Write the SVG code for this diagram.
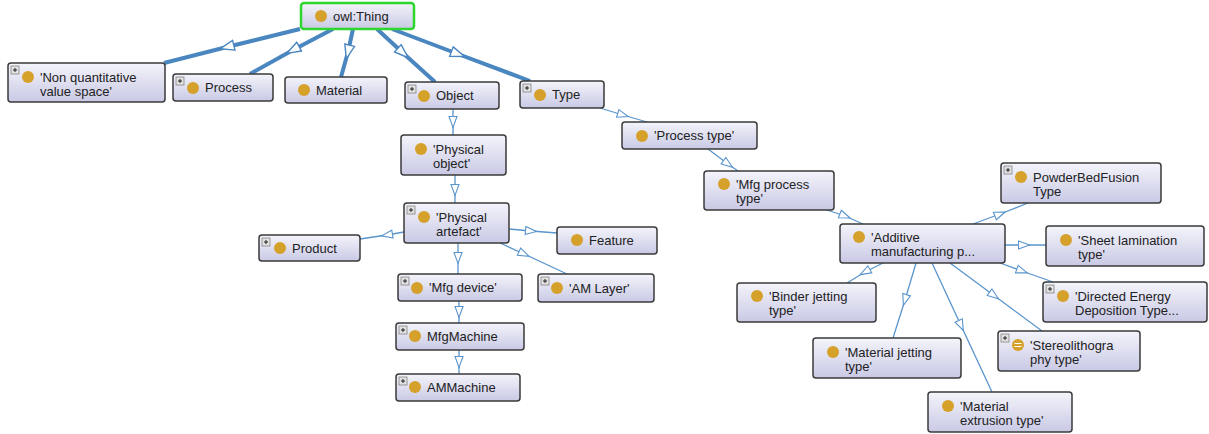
<svg xmlns="http://www.w3.org/2000/svg" width="1209" height="434" viewBox="0 0 1209 434">
<defs>
<linearGradient id="g" x1="0" y1="0" x2="0" y2="1">
<stop offset="0" stop-color="#f4f4fb"/>
<stop offset="1" stop-color="#c9c9e5"/>
</linearGradient>
<marker id="at" markerUnits="userSpaceOnUse" markerWidth="18" markerHeight="14" refX="8" refY="6" orient="auto">
<path d="M1,1 L15,6 L1,11 Z" fill="#fff" stroke="#4a86bf" stroke-width="1.4"/>
</marker>
<marker id="an" markerUnits="userSpaceOnUse" markerWidth="14" markerHeight="12" refX="6.5" refY="5" orient="auto">
<path d="M1,1 L12,5 L1,9 Z" fill="#fff" stroke="#5a95cc" stroke-width="1.1"/>
</marker>
<g id="plus">
<rect x="0" y="0" width="8" height="8" fill="#e2e2e2" stroke="#777" stroke-width="0.7"/>
<path d="M2,4 H6 M4,2 V6" stroke="#222" stroke-width="1"/>
</g>
</defs>
<style>
.box{fill:url(#g);stroke:#3a3a3a;stroke-width:1.5}
.root{fill:url(#g);stroke:#2fd62f;stroke-width:2.5}
.dot{fill:#d6a12b}
.t{font-family:"Liberation Sans",Arial,sans-serif;font-size:13px;fill:#222}
.thick{fill:none;stroke:#4a86bf;stroke-width:4;marker-mid:url(#at)}
.thin{fill:none;stroke:#5a95cc;stroke-width:1.3;marker-mid:url(#an)}
</style>
<rect width="1209" height="434" fill="#fff"/>
<g id="connectors">
<path class="thick" d="M300,29 L227,47 L164,63"/>
<path class="thick" d="M333,29 L293,50 L250,74"/>
<path class="thick" d="M353,29 L348,52 L341,77"/>
<path class="thick" d="M377,29 L403,53 L435,82"/>
<path class="thick" d="M392,29 L458,54 L530,81"/>
<path class="thin" d="M453,109 L453,122 L453,135"/>
<path class="thin" d="M455,175 L455,190 L455,203"/>
<path class="thin" d="M600,108 L623,115 L647,122"/>
<path class="thin" d="M708,149 L728,164 L738,171"/>
<path class="thin" d="M827,210 L845,216 L863,224"/>
<path class="thin" d="M973,224 L1000,214 L1028,203"/>
<path class="thin" d="M1005,245 L1024,245 L1046,245"/>
<path class="thin" d="M1000,263 L1022,271 L1053,282"/>
<path class="thin" d="M950,263 L994,295.5 L1042,331"/>
<path class="thin" d="M932,263 L961,325.5 L992,392"/>
<path class="thin" d="M916,263 L905,300 L893,338"/>
<path class="thin" d="M883,263 L865,272 L847,283"/>
<path class="thin" d="M404,232 L387,235 L360,239"/>
<path class="thin" d="M509,229 L531,231 L557,233"/>
<path class="thin" d="M500,243 L524,254 L567,274"/>
<path class="thin" d="M458,243 L458,258 L458,274"/>
<path class="thin" d="M459,301 L459,312 L459,323"/>
<path class="thin" d="M459,350 L459,362 L459,374"/>
</g>
<g id="n-thing"><rect class="root" x="301" y="3" width="113" height="26" rx="3"/><circle class="dot" cx="321" cy="16" r="6"/><text class="t" x="333" y="20.5">owl:Thing</text></g>
<g id="n-nonquant"><rect class="box" x="8" y="63" width="157" height="39" rx="3"/><use href="#plus" x="11" y="66"/><circle class="dot" cx="28" cy="77" r="6"/><text class="t" x="40" y="81.5">'Non quantitative</text><text class="t" x="40" y="95.5">value space'</text></g>
<g id="n-process"><rect class="box" x="173" y="74" width="100" height="27" rx="3"/><use href="#plus" x="176" y="77"/><circle class="dot" cx="193" cy="88" r="6"/><text class="t" x="205" y="92">Process</text></g>
<g id="n-material"><rect class="box" x="285" y="77" width="102" height="26" rx="3"/><circle class="dot" cx="304" cy="90" r="6"/><text class="t" x="316" y="94.5">Material</text></g>
<g id="n-object"><rect class="box" x="405" y="82" width="94" height="27" rx="3"/><use href="#plus" x="408" y="85"/><circle class="dot" cx="424" cy="96" r="6"/><text class="t" x="436" y="100">Object</text></g>
<g id="n-type"><rect class="box" x="520" y="81" width="84" height="27" rx="3"/><use href="#plus" x="523" y="84"/><circle class="dot" cx="540" cy="95" r="6"/><text class="t" x="552" y="99">Type</text></g>
<g id="n-processtype"><rect class="box" x="622" y="122" width="135" height="27" rx="3"/><circle class="dot" cx="642" cy="136" r="6"/><text class="t" x="654" y="140">'Process type'</text></g>
<g id="n-mfgprocesstype"><rect class="box" x="704" y="171" width="130" height="39" rx="3"/><circle class="dot" cx="724" cy="184" r="6"/><text class="t" x="736" y="188.5">'Mfg process</text><text class="t" x="736" y="202.5">type'</text></g>
<g id="n-physobject"><rect class="box" x="401" y="135" width="105" height="40" rx="3"/><circle class="dot" cx="421" cy="149" r="6"/><text class="t" x="433" y="153.5">'Physical</text><text class="t" x="433" y="167.5">object'</text></g>
<g id="n-physartefact"><rect class="box" x="404" y="203" width="105" height="40" rx="3"/><use href="#plus" x="407" y="206"/><circle class="dot" cx="424" cy="217" r="6"/><text class="t" x="436" y="221.5">'Physical</text><text class="t" x="436" y="235.5">artefact'</text></g>
<g id="n-product"><rect class="box" x="259" y="235" width="101" height="26" rx="3"/><use href="#plus" x="262" y="238"/><circle class="dot" cx="280" cy="248" r="6"/><text class="t" x="292" y="252.5">Product</text></g>
<g id="n-feature"><rect class="box" x="557" y="227" width="100" height="27" rx="3"/><circle class="dot" cx="577" cy="240" r="6"/><text class="t" x="589" y="244.5">Feature</text></g>
<g id="n-mfgdevice"><rect class="box" x="398" y="274" width="124" height="27" rx="3"/><use href="#plus" x="401" y="277"/><circle class="dot" cx="417" cy="288" r="6"/><text class="t" x="429" y="292">'Mfg device'</text></g>
<g id="n-amlayer"><rect class="box" x="538" y="274" width="116" height="28" rx="3"/><use href="#plus" x="541" y="277"/><circle class="dot" cx="557" cy="288" r="6"/><text class="t" x="569" y="292.5">'AM Layer'</text></g>
<g id="n-mfgmachine"><rect class="box" x="396" y="323" width="128" height="27" rx="3"/><use href="#plus" x="399" y="326"/><circle class="dot" cx="415" cy="336" r="6"/><text class="t" x="427" y="340.5">MfgMachine</text></g>
<g id="n-ammachine"><rect class="box" x="396" y="374" width="124" height="27" rx="3"/><use href="#plus" x="399" y="377"/><circle class="dot" cx="415" cy="387" r="6"/><text class="t" x="427" y="391.5">AMMachine</text></g>
<g id="n-additive"><rect class="box" x="840" y="224" width="165" height="39" rx="3"/><circle class="dot" cx="859" cy="237" r="6"/><text class="t" x="871" y="241.5">'Additive</text><text class="t" x="871" y="255.5">manufacturing p...</text></g>
<g id="n-powderbed"><rect class="box" x="1001" y="163" width="160" height="40" rx="3"/><use href="#plus" x="1004" y="166"/><circle class="dot" cx="1021" cy="177" r="6"/><text class="t" x="1033" y="181.5">PowderBedFusion</text><text class="t" x="1033" y="195.5">Type</text></g>
<g id="n-sheet"><rect class="box" x="1046" y="226" width="158" height="40" rx="3"/><circle class="dot" cx="1066" cy="240" r="6"/><text class="t" x="1078" y="244.5">'Sheet lamination</text><text class="t" x="1078" y="258.5">type'</text></g>
<g id="n-binder"><rect class="box" x="737" y="283" width="139" height="39" rx="3"/><circle class="dot" cx="757" cy="296" r="6"/><text class="t" x="769" y="300.5">'Binder jetting</text><text class="t" x="769" y="314.5">type'</text></g>
<g id="n-ded"><rect class="box" x="1043" y="282" width="164" height="40" rx="3"/><use href="#plus" x="1046" y="285"/><circle class="dot" cx="1063" cy="296" r="6"/><text class="t" x="1075" y="300.5">'Directed Energy</text><text class="t" x="1075" y="314.5">Deposition Type...</text></g>
<g id="n-matjetting"><rect class="box" x="813" y="338" width="148" height="40" rx="3"/><circle class="dot" cx="833" cy="352" r="6"/><text class="t" x="845" y="356.5">'Material jetting</text><text class="t" x="845" y="370.5">type'</text></g>
<g id="n-stereo"><rect class="box" x="998" y="331" width="142" height="40" rx="3"/><use href="#plus" x="1001" y="334"/><circle class="dot" cx="1018" cy="345" r="6"/><path d="M1014.5,343.5 H1021.5 M1014.5,346.5 H1021.5" stroke="#fff" stroke-width="1.2"/><text class="t" x="1030" y="349.5">'Stereolithogra</text><text class="t" x="1030" y="363.5">phy type'</text></g>
<g id="n-extrusion"><rect class="box" x="928" y="392" width="144" height="40" rx="3"/><circle class="dot" cx="948" cy="406" r="6"/><text class="t" x="960" y="410.5">'Material</text><text class="t" x="960" y="424.5">extrusion type'</text></g>
</svg>
